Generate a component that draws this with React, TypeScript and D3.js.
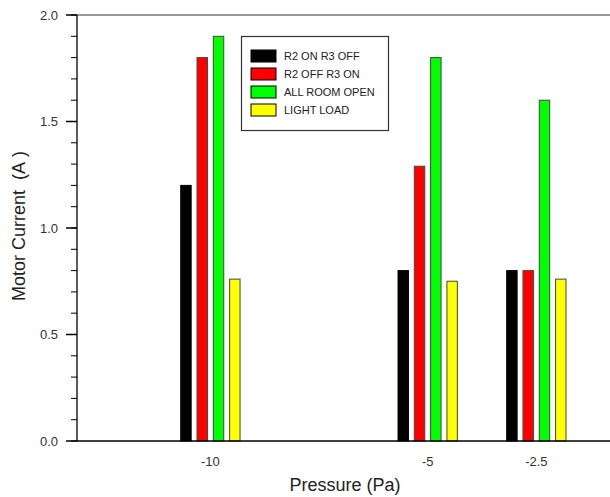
import React from "react";
import * as d3 from "d3";

// pressure points (Pa) and the four load cases
const pressures = [-10, -5, -2.5];
const series = ["R2 ON R3 OFF", "R2 OFF R3 ON", "ALL ROOM OPEN", "LIGHT LOAD"];
const colors = ["#000000", "#ff0000", "#00ff00", "#ffff00"];

// motor current (A) per series, in the order of pressures
const r2OnR3Off = [1.2, 0.8, 0.8];
const r2OffR3On = [1.8, 1.29, 0.8];
const allRoomOpen = [1.9, 1.8, 1.6];
const lightLoad = [0.76, 0.75, 0.76];
const values = [r2OnR3Off, r2OffR3On, allRoomOpen, lightLoad];

const yMajor = [0, 0.5, 1.0, 1.5, 2.0];
const yMinor = d3.range(0, 2.0001, 0.1);

const W = 610;
const H = 497;
const axisX = 77;
const top = 15;
const bottom = 441;

export default function App() {
  const x = d3.scaleLinear().domain([-13, 0]).range([80, 645]);
  const y = d3.scaleLinear().domain([0, 2]).range([bottom, top]);
  const inner = d3
    .scaleBand<number>()
    .domain(d3.range(series.length))
    .range([-32.6, 32.6])
    .paddingInner(0.36)
    .paddingOuter(0.18);

  const font = "Arial, 'Liberation Sans', sans-serif";

  return (
    <svg
      width={W}
      height={H}
      style={{ position: "absolute", left: 0, top: 0, background: "#fff" }}
      fontFamily={font}
    >
      {/* bars */}
      {values.map((vals, s) =>
        vals.map((v, i) => (
          <rect
            key={`${s}-${i}`}
            x={x(pressures[i]) + (inner(s) as number)}
            y={y(v)}
            width={inner.bandwidth()}
            height={y(0) - y(v)}
            fill={colors[s]}
            stroke={s === 0 ? "#000" : "#444"}
            strokeWidth={1}
          />
        ))
      )}

      {/* frame */}
      <line x1={axisX} x2={W} y1={top} y2={top} stroke="#777" strokeWidth={1.3} />
      <line x1={axisX} x2={W} y1={bottom} y2={bottom} stroke="#000" strokeWidth={1.3} />
      <line x1={axisX} x2={axisX} y1={top} y2={bottom} stroke="#000" strokeWidth={1.3} />

      {/* y ticks */}
      {yMinor.map((t) => (
        <line key={"m" + t} x1={axisX - 6} x2={axisX} y1={y(t)} y2={y(t)} stroke="#000" strokeWidth={1} />
      ))}
      {yMajor.map((t) => (
        <g key={"M" + t}>
          <line x1={axisX - 11} x2={axisX} y1={y(t)} y2={y(t)} stroke="#000" strokeWidth={1.5} />
          <text x={58} y={y(t)} dy="0.35em" textAnchor="end" fontSize={13} fill="#333">
            {d3.format(".1f")(t)}
          </text>
        </g>
      ))}

      {/* x tick labels */}
      {pressures.map((p) => (
        <text key={p} x={x(p)} y={466} textAnchor="middle" fontSize={13} fill="#333">
          {p}
        </text>
      ))}

      {/* axis titles */}
      <text x={345} y={491} textAnchor="middle" fontSize={18} fill="#222">
        Pressure (Pa)
      </text>
      <text
        transform={`translate(25,226) rotate(-90)`}
        textAnchor="middle"
        fontSize={18}
        fill="#222"
      >
        {"Motor Current\u00a0 (A\u00a0)"}
      </text>

      {/* legend */}
      <rect x={241.5} y={36.5} width={147} height={94} fill="#fff" stroke="#333" strokeWidth={1.2} />
      {series.map((name, s) => (
        <g key={name} transform={`translate(251,${50 + s * 18})`}>
          <rect width={25} height={12} fill={colors[s]} stroke="#000" strokeWidth={1} />
          <text x={33} y={6} dy="0.35em" fontSize={11} fill="#222">
            {name}
          </text>
        </g>
      ))}
    </svg>
  );
}
